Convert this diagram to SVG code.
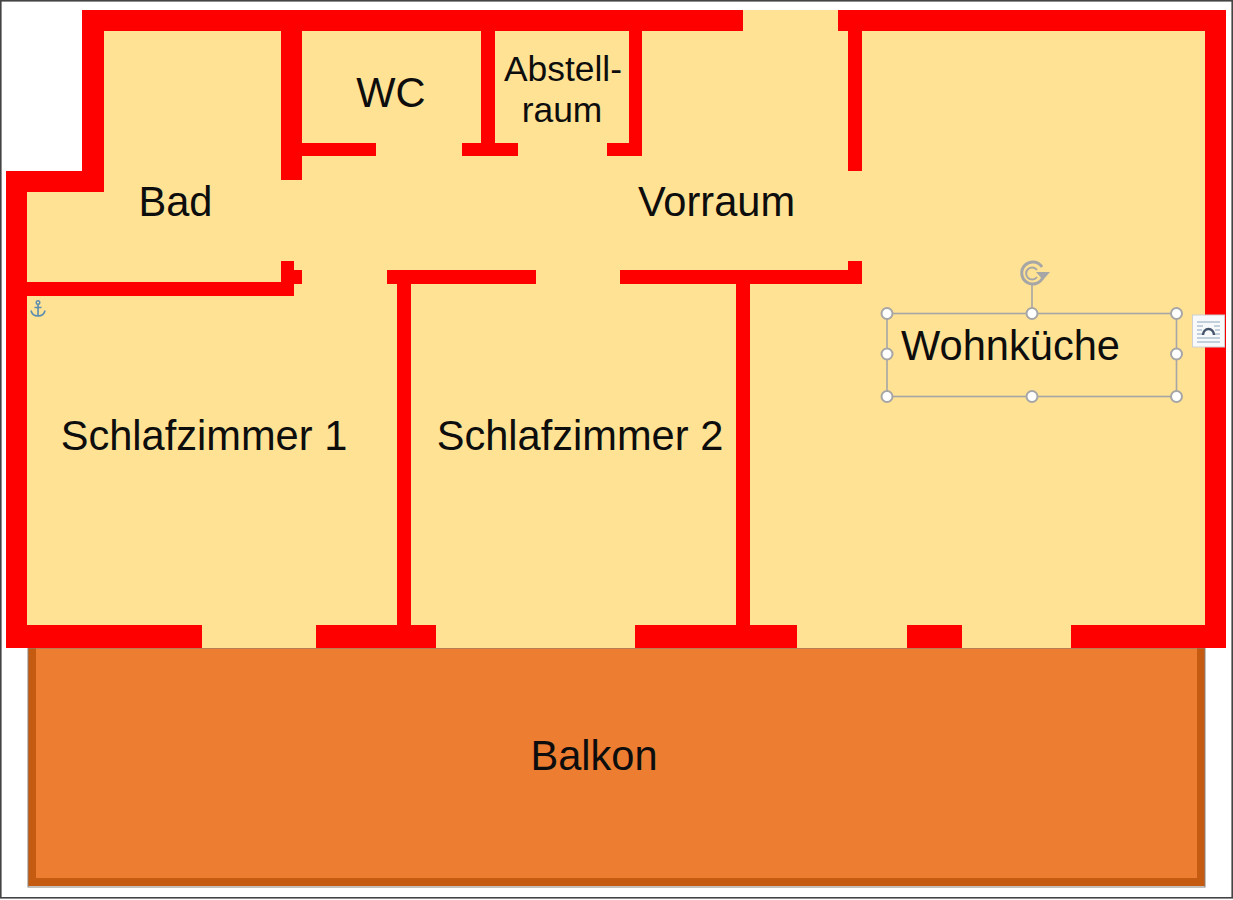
<svg xmlns="http://www.w3.org/2000/svg" width="1233" height="900" viewBox="0 0 1233 900">
<style>
.w{fill:#fe0000}
.t{font-family:"Liberation Sans",Arial,sans-serif;fill:#0d0d0d;text-anchor:middle;font-size:41.6px}
.s{font-size:35.4px}
.h{fill:#fff;stroke:#a6a6a6;stroke-width:2}
.l{fill:none;stroke:#a6a6a6;stroke-width:1.6}
</style>
<rect width="1233" height="900" fill="#fff"/>
<rect x="0.800" y="0.800" width="1231.400" height="897" fill="none" stroke="#444" stroke-width="1.600"/>
<g id="balkon">
<rect x="32" y="644" width="1169" height="238" fill="#ed7d31" stroke="#c55a11" stroke-width="8"/>
<rect x="28" y="648" width="1177" height="239" fill="none" stroke="#8a8078" stroke-width="1"/>
<text class="t" x="594" y="770">Balkon</text>
</g>
<path id="floor" d="M82 10H1226V648H6V171H82Z" fill="#ffe294"/>
<g id="walls">
<path class="w" d="M82 10H743V31H104V192H27V625H202V648H6V171H82Z"/>
<path class="w" d="M838 10H1226V648H1071V625H1205V31H838Z"/>
<rect class="w" x="316" y="625" width="120" height="23"/>
<rect class="w" x="635" y="625" width="162" height="23"/>
<rect class="w" x="907" y="625" width="55" height="23"/>
<path class="w" d="M281 31H302V143H376V156H302V180H281Z"/>
<path class="w" d="M481 31H495V143H518V156H462V143H481Z"/>
<path class="w" d="M629 31H642V156H607V143H629Z"/>
<rect class="w" x="848" y="31" width="14" height="140"/>
<path class="w" d="M27 282H281V261H294V270H302V284H294V296H27Z"/>
<path class="w" d="M387 270H536V284H411V625H397V284H387Z"/>
<path class="w" d="M620 270H848V261H862V284H750V625H736V284H620Z"/>
</g>
<g id="bad"><text class="t" x="175.500" y="215.500">Bad</text></g>
<g id="wc"><text class="t" x="391" y="106.500">WC</text></g>
<g id="abstellraum"><text class="t s" x="563" y="81">Abstell-</text><text class="t s" x="562" y="122">raum</text></g>
<g id="vorraum"><text class="t" x="716.500" y="215.500">Vorraum</text></g>
<g id="schlafzimmer1"><text class="t" x="204" y="449.500">Schlafzimmer 1</text></g>
<g id="schlafzimmer2"><text class="t" x="580" y="449.500">Schlafzimmer 2</text></g>
<g id="wohnkueche">
<text class="t" x="1010.500" y="360">Wohnküche</text>
<rect class="l" x="887" y="313.500" width="289.500" height="83"/>
<line class="l" x1="1032" y1="285" x2="1032" y2="313"/>
<circle class="h" cx="887" cy="313.500" r="5.500"/><circle class="h" cx="1032" cy="313.500" r="5.500"/><circle class="h" cx="1176.500" cy="313.500" r="5.500"/>
<circle class="h" cx="887" cy="354" r="5.500"/><circle class="h" cx="1176.500" cy="354" r="5.500"/>
<circle class="h" cx="887" cy="396.500" r="5.500"/><circle class="h" cx="1032" cy="396.500" r="5.500"/><circle class="h" cx="1176.500" cy="396.500" r="5.500"/>
<path d="M1042 267A11 11 0 1 0 1043 277" fill="none" stroke="#a6a6a6" stroke-width="3"/>
<path d="M1037 270A6 6 0 1 0 1037 277" fill="none" stroke="#a6a6a6" stroke-width="2"/>
<path d="M1036 272H1050L1043 280Z" fill="#a6a6a6"/>
<rect x="1192.500" y="315" width="32" height="32" fill="#f7f9fb" stroke="#d0d0d0"/>
<path d="M1197 322H1220M1197 326H1203M1214 326H1220M1197 330H1202M1215 330H1220M1197 334H1202M1215 334H1220M1197 338H1220M1197 342H1220" fill="none" stroke="#8fa7bd" stroke-width="1.2"/>
<path d="M1203 335A5.500 6 0 0 1 1214 335" fill="none" stroke="#44546a" stroke-width="2.500"/>
</g>
<g id="anker">
<circle cx="38" cy="302.500" r="1.800" fill="none" stroke="#5b8db0" stroke-width="1.400"/>
<path d="M38 304.500V316M34.500 307.500H41.500M31 310.500Q32 316 38 316Q44 316 45 310.500" fill="none" stroke="#5b8db0" stroke-width="1.600"/>
</g>
</svg>
